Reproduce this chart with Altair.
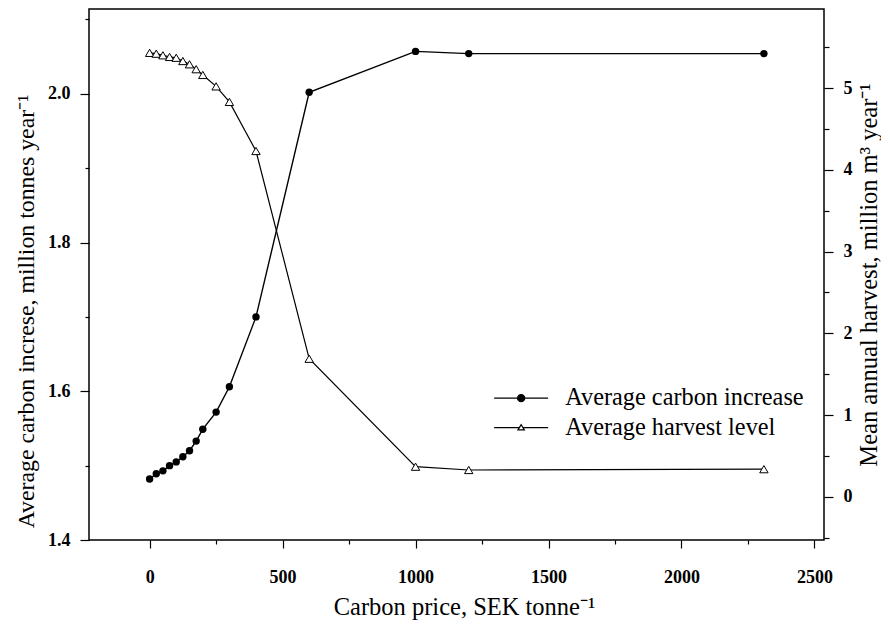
import altair as alt
import pandas as pd

price = [0, 25, 50, 75, 100, 125, 150, 175, 200, 250, 300, 400, 600, 1000, 1200, 2310]
carbon = [1.482, 1.489, 1.493, 1.500, 1.505, 1.512, 1.520, 1.533, 1.549, 1.572,
          1.606, 1.700, 2.002, 2.057, 2.054, 2.054]
harvest = [5.43, 5.42, 5.40, 5.38, 5.37, 5.33, 5.29, 5.23, 5.16, 5.02,
           4.83, 4.23, 1.69, 0.37, 0.33, 0.34]
series_names = ["Average carbon increase", "Average harvest level"]

x_ticks = [0, 250, 500, 750, 1000, 1250, 1500, 1750, 2000, 2250, 2500]
left_ticks = [1.4, 1.5, 1.6, 1.7, 1.8, 1.9, 2.0, 2.1]
right_ticks = [-0.5, 0, 0.5, 1, 1.5, 2, 2.5, 3, 3.5, 4, 4.5, 5, 5.5]

df = pd.DataFrame({"price": price, "carbon": carbon, "harvest": harvest})
leg = pd.DataFrame({"series": series_names})

FONT = "Liberation Serif"

x_enc = alt.X(
    "price:Q",
    scale=alt.Scale(domain=[-228, 2536], nice=False, zero=False),
    axis=alt.Axis(
        values=x_ticks,
        format="d",
        labelExpr="datum.value % 500 == 0 ? datum.label : ''",
        tickSize={"condition": {"test": "datum.value % 500 == 0", "value": 8}, "value": 4},
        title="Carbon price, SEK tonne⁻¹",
        titleX=375,
        labelPadding=20,
        titlePadding=9,
    ),
)

y_left = alt.Y(
    "carbon:Q",
    scale=alt.Scale(domain=[1.4, 2.114], nice=False, zero=False),
    axis=alt.Axis(
        orient="left",
        values=left_ticks,
        labelExpr="round(datum.value*10) % 2 == 0 ? format(datum.value, '.1f') : ''",
        tickSize={"condition": {"test": "round(datum.value*10) % 2 == 0", "value": 9}, "value": 4},
        title="Average carbon increse, million tonnes year⁻¹",
        titleFontSize=23.8,
        labelPadding=10,
        titlePadding=9,
        titleY=302,
    ),
)

y_right = alt.Y(
    "harvest:Q",
    scale=alt.Scale(domain=[-0.526, 5.966], nice=False, zero=False),
    axis=alt.Axis(
        orient="right",
        values=right_ticks,
        labelExpr="abs(datum.value - round(datum.value)) < 0.01 ? format(datum.value, 'd') : ''",
        tickSize={"condition": {"test": "abs(datum.value - round(datum.value)) < 0.01", "value": 9}, "value": 5},
        title="Mean annual harvest, million m³ year⁻¹",
        titleAngle=270,
        titleBaseline="top",
        labelPadding=10,
        titlePadding=5,
    ),
)

base = alt.Chart(df)

carbon_layer = alt.layer(
    base.mark_line(color="black", strokeWidth=1.4).encode(x=x_enc, y=y_left),
    base.mark_point(shape="circle", filled=True, color="black", size=55, opacity=1).encode(x=x_enc, y=y_left),
)

harvest_layer = alt.layer(
    base.mark_line(color="black", strokeWidth=1.2).encode(x=x_enc, y=y_right),
    base.mark_point(shape="triangle-up", filled=True, fill="white", stroke="black",
                    strokeWidth=1, size=70, opacity=1).encode(x=x_enc, y=y_right),
)

circle_sym = ("M-2.7,0 L2.7,0 M-0.36,0 A0.36,0.36 0 1 0 0.36,0 "
              "A0.36,0.36 0 1 0 -0.36,0 Z")
tri_sym = ("M-2.7,0 L-0.17,0 M0.17,0 L2.7,0 "
           "M-0.32,0.22 L0,-0.3 L0.32,0.22 Z")

legend_def = alt.Legend(
    title=None,
    orient="none",
    legendX=420,
    legendY=377,
    padding=0,
    symbolSize=400,
    symbolStrokeColor="black",
    symbolStrokeWidth=1.2,
    symbolOpacity=1,
    labelFont=FONT,
    labelFontSize=24.3,
    labelColor="black",
    labelOffset=32,
    rowPadding=4.5,
    labelLimit=400,
)

legend_layer = alt.Chart(leg).mark_point(filled=True, opacity=0).encode(
    shape=alt.Shape("series:N", scale=alt.Scale(domain=series_names, range=[circle_sym, tri_sym]),
                    legend=legend_def),
    fill=alt.Fill("series:N", scale=alt.Scale(domain=series_names, range=["black", "white"]),
                  legend=legend_def),
    stroke=alt.Stroke("series:N", scale=alt.Scale(domain=series_names, range=["black", "black"]),
                      legend=legend_def),
)

chart = alt.layer(carbon_layer, harvest_layer, legend_layer).resolve_scale(
    y="independent"
).properties(
    width=735,
    height=531,
    autosize=alt.AutoSizeParams(type="none"),
    padding={"left": 81, "top": 1, "right": 57, "bottom": 80},
    background="white",
).configure_view(
    stroke="black", strokeWidth=1.5
).configure_axis(
    grid=False,
    domain=False,
    labelFont=FONT,
    labelFontWeight="bold",
    labelFontSize=18,
    labelColor="black",
    titleFont=FONT,
    titleFontWeight="normal",
    titleFontSize=24.5,
    titleColor="black",
    tickColor="black",
    tickWidth=1.2,
)

chart.save("out.html", embed_options={"renderer": "svg", "actions": False})
